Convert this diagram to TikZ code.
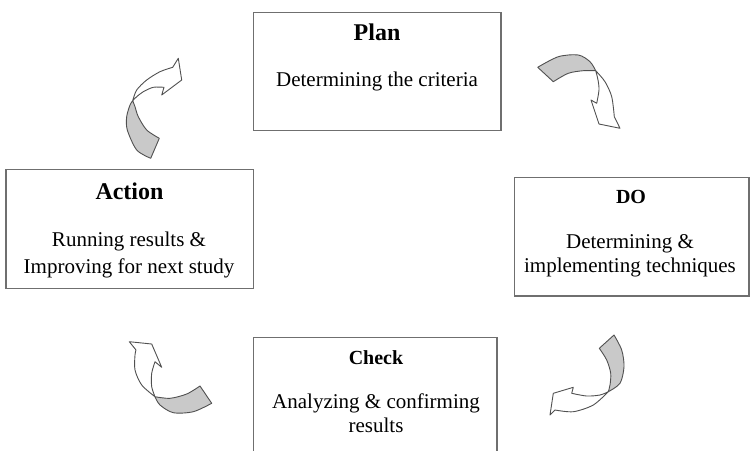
\documentclass[tikz,border=0pt]{standalone}
\usepackage{fontspec}
\setmainfont{Liberation Serif}
\definecolor{boxgray}{HTML}{6F6F6F}
\definecolor{arrline}{HTML}{505050}
\definecolor{arrfill}{HTML}{C9C9C9}
\tikzset{
  box/.style={draw=boxgray, line width=1.3pt, fill=white, inner sep=0pt},
  titlebig/.style={anchor=base, font=\fontsize{24}{28}\selectfont\bfseries},
  titlesmall/.style={anchor=base, font=\fontsize{20}{24}\selectfont\bfseries},
  body/.style={anchor=base, font=\fontsize{21}{26}\selectfont},
  arrback/.style={draw=arrline, line width=0.9pt, fill=arrfill, line join=round},
  arrfront/.style={draw=arrline, line width=0.9pt, fill=white, line join=round}
}
\begin{document}
\begin{tikzpicture}[x=1pt,y=-1pt]
\useasboundingbox (0,0) rectangle (752,450);
% boxes
\node[box, minimum width=247.7pt, minimum height=118pt] (plan) at (377.2,71.4) {};
\node[box, minimum width=234.7pt, minimum height=118.7pt] (do) at (631.7,236.7) {};
\node[box, minimum width=247.3pt, minimum height=119pt] (action) at (129.7,228.8) {};
\node[box, minimum width=243.7pt, minimum height=119.4pt] (check) at (375.2,397) {};
% texts
\node[titlebig] (plant) at (377,40.7) {Plan};
\node[body] (planb) at (377,86) {Determining the criteria};
\node[titlesmall] (dot) at (631,203.3) {DO};
\node[body] (dob1) at (630,248) {Determining \&};
\node[body] (dob2) at (630,272.5) {implementing techniques};
\node[titlebig] (actiont) at (129.5,199.5) {Action};
\node[body] (actionb1) at (129,246) {Running results \&};
\node[body] (actionb2) at (129,273.3) {Improving for next study};
\node[titlesmall] (checkt) at (376,364) {Check};
\node[body] (checkb1) at (376,408.3) {Analyzing \& confirming};
\node[body] (checkb2) at (376,432.7) {results};
% arrow 1 (Action -> Plan)
\draw[arrfront] plot[smooth] coordinates {(132.7,100.7) (136.7,90) (146.7,80) (160,71.7) (172.7,67.3)}
  -- (178.3,58.3) -- (181.7,80) -- (161.7,95)
  -- plot[smooth] coordinates {(164,87.3) (153.3,87.3) (143.3,91.7) (136.7,96.7) (132.7,100.7)} -- cycle;
\draw[arrback] plot[smooth] coordinates {(150.7,158.3) (136.7,150) (127.3,130) (126.7,116.7) (130,105) (132.7,100.7)}
  -- plot[smooth] coordinates {(132.7,100.7) (135,106.7) (138.3,116.7) (146.7,130) (159.3,138.3)} -- cycle;
% arrow 2 (Plan -> DO)
\draw[arrfront] plot[smooth] coordinates {(595.7,70.7) (605,81.7) (611.7,96.7) (614.3,116.7)}
  -- (620,128.3) -- (599,124) -- (591,100)
  -- plot[smooth] coordinates {(596.7,103.3) (599,90) (598,80) (595.7,70.7)} -- cycle;
\draw[arrback] plot[smooth] coordinates {(537.7,67.3) (558.3,56.7) (578.3,55) (590,61.7) (595.7,70.7)}
  -- plot[smooth] coordinates {(595.7,70.7) (583.3,70.7) (568.3,73.3) (553.3,81.7)} -- cycle;
% arrow 3 (DO -> Check)
\draw[arrfront] plot[smooth] coordinates {(608.3,391.7) (593.3,405) (573.3,411.7) (555,410)}
  -- (550,415) -- (553.3,393.3) -- (573.3,387.3)
  -- plot[smooth] coordinates {(571.7,393.3) (586.7,396) (600,395) (608.3,391.7)} -- cycle;
\draw[arrback] plot[smooth] coordinates {(599.3,348.3) (606.7,360) (610.7,373.3) (610,385) (608.3,391.7)}
  -- plot[smooth] coordinates {(608.3,391.7) (620,383.3) (624,366.7) (621.7,350) (614,335)} -- cycle;
% arrow 4 (Check -> Action)
\draw[arrfront] plot[smooth] coordinates {(155,396.7) (141.7,385) (135,370) (135,355) (136,350)}
  -- (129.3,341.7) -- (151.7,344) -- (161.7,367.3)
  -- plot[smooth] coordinates {(155,361.7) (151.7,373.3) (151.7,386.7) (155,396.7)} -- cycle;
\draw[arrback] plot[smooth] coordinates {(200,386) (186.7,394) (170,398.3) (155,396.7)}
  -- plot[smooth] coordinates {(155,396.7) (160,405) (173.3,412.7) (193.3,411.7) (211.7,403.3)} -- cycle;
\end{tikzpicture}
\end{document}
